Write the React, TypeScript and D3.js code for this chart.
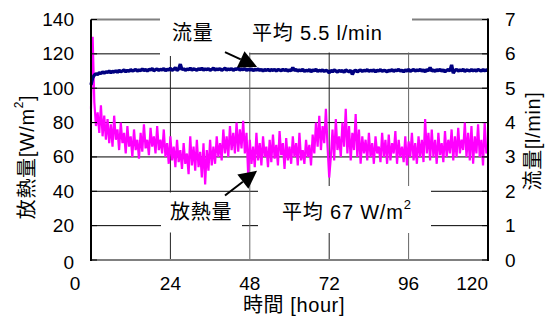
import React from 'react';
import * as d3 from 'd3';

// sampling step of both logged series [hour]
const STEP = 0.5;

// heat release [W/m2], every 0.5 h from 0 to 120 h
const heatValues = [
  88, 130, 92, 78, 86, 74, 90, 72, 84, 70,
  82, 68, 79, 66, 84, 70, 76, 64, 80, 68,
  74, 62, 78, 66, 72, 60, 76, 64, 70, 59,
  74, 63, 79, 65, 70, 61, 77, 66, 72, 62,
  78, 64, 70, 62, 76, 60, 68, 56, 72, 58,
  66, 54, 70, 57, 64, 53, 68, 56, 62, 50,
  72, 55, 66, 52, 70, 54, 63, 48, 68, 44,
  64, 52, 70, 55, 66, 56, 72, 60, 68, 58,
  76, 62, 72, 60, 78, 64, 74, 62, 80, 63,
  76, 65, 81, 62, 74, 50, 70, 56, 66, 54,
  74, 58, 68, 55, 72, 60, 66, 54, 70, 57,
  73, 59, 67, 55, 75, 61, 68, 53, 71, 58,
  66, 56, 72, 60, 68, 55, 74, 58, 64, 56,
  70, 60, 67, 55, 73, 62, 80, 66, 84, 64,
  78, 68, 88, 66, 48, 60, 76, 58, 82, 64,
  72, 60, 80, 66, 88, 62, 78, 58, 74, 64,
  85, 60, 76, 56, 72, 62, 70, 58, 74, 60,
  68, 56, 72, 62, 66, 57, 74, 60, 70, 56,
  73, 58, 68, 62, 75, 56, 70, 60, 66, 57,
  72, 55, 69, 60, 74, 58, 68, 56, 72, 60,
  70, 57, 82, 62, 74, 58, 76, 60, 70, 56,
  74, 61, 68, 57, 75, 60, 70, 62, 76, 58,
  72, 60, 77, 62, 70, 64, 80, 60, 74, 58,
  78, 56, 72, 62, 79, 60, 70, 55, 80, 62,
  66,
];

// flow rate [l/min], same time base
const flowValues = [
  5.10, 5.30, 5.38, 5.42, 5.40, 5.45, 5.43, 5.47, 5.44, 5.48,
  5.46, 5.50, 5.45, 5.49, 5.47, 5.51, 5.46, 5.52, 5.48, 5.50,
  5.53, 5.48, 5.52, 5.49, 5.54, 5.50, 5.52, 5.55, 5.50, 5.53,
  5.51, 5.56, 5.52, 5.54, 5.50, 5.55, 5.53, 5.57, 5.51, 5.54,
  5.56, 5.52, 5.55, 5.53, 5.57, 5.51, 5.55, 5.53, 5.58, 5.52,
  5.55, 5.60, 5.52, 5.56, 5.70, 5.54, 5.57, 5.52, 5.56, 5.54,
  5.58, 5.53, 5.56, 5.55, 5.52, 5.57, 5.54, 5.58, 5.53, 5.56,
  5.54, 5.57, 5.52, 5.55, 5.58, 5.53, 5.56, 5.54, 5.57, 5.52,
  5.55, 5.58, 5.53, 5.56, 5.54, 5.57, 5.52, 5.56, 5.55, 5.58,
  5.53, 5.56, 5.54, 5.57, 5.52, 5.55, 5.53, 5.56, 5.51, 5.55,
  5.53, 5.56, 5.52, 5.55, 5.50, 5.54, 5.52, 5.55, 5.51, 5.54,
  5.52, 5.55, 5.50, 5.54, 5.53, 5.51, 5.55, 5.52, 5.54, 5.50,
  5.53, 5.51, 5.60, 5.52, 5.54, 5.50, 5.53, 5.51, 5.55, 5.49,
  5.52, 5.50, 5.54, 5.48, 5.53, 5.51, 5.55, 5.49, 5.52, 5.50,
  5.53, 5.49, 5.52, 5.50, 5.45, 5.52, 5.48, 5.53, 5.50, 5.47,
  5.52, 5.49, 5.51, 5.46, 5.53, 5.50, 5.48, 5.52, 5.40, 5.50,
  5.52, 5.48, 5.51, 5.53, 5.49, 5.52, 5.50, 5.54, 5.49, 5.52,
  5.50, 5.53, 5.48, 5.52, 5.50, 5.54, 5.49, 5.52, 5.51, 5.48,
  5.52, 5.50, 5.54, 5.49, 5.53, 5.51, 5.55, 5.50, 5.52, 5.48,
  5.53, 5.50, 5.55, 5.49, 5.52, 5.54, 5.50, 5.53, 5.51, 5.55,
  5.50, 5.53, 5.48, 5.54, 5.51, 5.60, 5.50, 5.53, 5.49, 5.54,
  5.51, 5.55, 5.50, 5.53, 5.48, 5.52, 5.54, 5.50, 5.68, 5.44,
  5.52, 5.55, 5.50, 5.53, 5.51, 5.55, 5.49, 5.53, 5.52, 5.50,
  5.54, 5.51, 5.53, 5.50, 5.55, 5.52, 5.50, 5.54, 5.51, 5.53,
  5.52,
];

const xTicks = [0, 24, 48, 72, 96, 120];
const heatTicks = [0, 20, 40, 60, 80, 100, 120, 140];
const flowTicks = [0, 1, 2, 3, 4, 5, 6, 7];

const FONT = "Arial, 'Liberation Sans', 'Noto Sans CJK JP', sans-serif";
const W = 549;
const H = 325;

export default function App() {
  const x = d3.scaleLinear().domain([0, 120]).range([91, 488]);
  const yHeat = d3.scaleLinear().domain([0, 140]).range([260, 19.5]);
  const yFlow = d3.scaleLinear().domain([0, 7]).range([260, 19.5]);

  const heatLine = d3.line<number>()
    .x((_, i) => x(i * STEP))
    .y(d => yHeat(d));
  const flowLine = d3.line<number>()
    .x((_, i) => x(i * STEP))
    .y(d => yFlow(d));

  // arrow shaft + filled head between two screen points
  const arrowHead = (x0: number, y0: number, x1: number, y1: number) => {
    const dx = x1 - x0, dy = y1 - y0;
    const len = Math.hypot(dx, dy);
    const ux = dx / len, uy = dy / len;
    const bx = x1 - 18 * ux, by = y1 - 18 * uy;
    const px = -uy * 9, py = ux * 9;
    return {
      line: [x0, y0, bx, by],
      pts: `${x1},${y1} ${bx + px},${by + py} ${bx - px},${by - py}`,
    };
  };
  const flowArrow = arrowHead(x(40.5), yFlow(6.05), x(50.2), yFlow(5.62));
  const heatArrow = arrowHead(x(40.5), yHeat(37.5), x(50.2), yHeat(52));

  return (
    <svg width={W} height={H} style={{ position: 'absolute', left: 0, top: 0, background: '#fff' }}
      fontFamily={FONT}>
      <rect width={W} height={H} fill="#fff" />

      {/* horizontal gridlines */}
      {heatTicks.filter(t => t > 0).map(t => (
        <line key={'h' + t} x1={x(0)} x2={x(120)} y1={yHeat(t)} y2={yHeat(t)}
          stroke={t === 140 ? '#808080' : '#000'} strokeWidth={t === 140 ? 2 : 1} />
      ))}
      {/* vertical gridlines */}
      {xTicks.filter(t => t > 0 && t < 120).map((t, i) => (
        <line key={'v' + t} x1={x(t)} x2={x(t)} y1={yHeat(140)} y2={yHeat(0)}
          stroke={i % 2 === 0 ? '#222' : '#666'} strokeWidth={1} />
      ))}

      {/* label boxes hiding the grid */}
      <rect x={160} y={8} width={89} height={48} fill="#fff" />
      <rect x={249} y={8} width={163} height={44.5} fill="#fff" />
      <rect x={161} y={192.5} width={81} height={40} fill="#fff" />
      <rect x={258} y={186} width={173} height={47} fill="#fff" />

      {/* series */}
      <path d={heatLine(heatValues) || ''} fill="none" stroke="#ff00ff" strokeWidth={2.2} strokeLinejoin="bevel" />
      <path d={flowLine(flowValues) || ''} fill="none" stroke="#000080" strokeWidth={3.4} strokeLinejoin="bevel" />

      {/* axes */}
      <line x1={x(0)} x2={x(120)} y1={yHeat(0)} y2={yHeat(0)} stroke="#808080" strokeWidth={2} />
      <line x1={x(0)} x2={x(0)} y1={yHeat(140)} y2={yHeat(0) + 1} stroke="#000" strokeWidth={2} />
      <line x1={x(120)} x2={x(120)} y1={yHeat(140) - 1} y2={yHeat(0) + 1} stroke="#000" strokeWidth={2} />
      {heatTicks.map(t => (
        <line key={'lt' + t} x1={x(0)} x2={x(0) + 6} y1={yHeat(t)} y2={yHeat(t)} stroke="#000" strokeWidth={1} />
      ))}
      {flowTicks.map(t => (
        <line key={'rt' + t} x1={x(120) - 6} x2={x(120)} y1={yFlow(t)} y2={yFlow(t)} stroke="#000" strokeWidth={1} />
      ))}

      {/* arrows */}
      {[flowArrow, heatArrow].map((a, i) => (
        <g key={'a' + i}>
          <line x1={a.line[0]} y1={a.line[1]} x2={a.line[2]} y2={a.line[3]} stroke="#000" strokeWidth={2} />
          <polygon points={a.pts} fill="#000" />
        </g>
      ))}

      {/* tick labels */}
      <g fontSize={19} fill="#000">
        {heatTicks.map(t => (
          <text key={'ll' + t} x={74} y={yHeat(t) + (t === 0 ? 2 : 0)} textAnchor="end" dominantBaseline="central">{t}</text>
        ))}
        {flowTicks.map(t => (
          <text key={'rl' + t} x={505} y={yFlow(t)} textAnchor="start" dominantBaseline="central">{t}</text>
        ))}
        {xTicks.map(t => (
          <text key={'xl' + t}
            x={t === 0 ? 75 : t === 120 ? x(120) : x(t)}
            y={283}
            textAnchor={t === 120 ? 'end' : 'middle'}
            dominantBaseline="central">{t}</text>
        ))}
      </g>

      {/* axis titles */}
      <g fontSize={20} fill="#000" letterSpacing={0.6}>
        <text transform="translate(27,157) rotate(-90)" textAnchor="middle" dominantBaseline="central">
          放熱量[W/m<tspan fontSize={12} dy={-8}>2</tspan><tspan dy={8}>]</tspan>
        </text>
        <text transform="translate(533,141) rotate(-90)" textAnchor="middle" dominantBaseline="central">
          流量[l/min]
        </text>
        <text x={294} y={305} textAnchor="middle" dominantBaseline="central">時間 [hour]</text>
      </g>

      {/* annotations */}
      <g fontSize={20} fill="#000" letterSpacing={0.8}>
        <text x={172} y={33} dominantBaseline="central">流量</text>
        <text x={252} y={33} dominantBaseline="central">平均 5.5 l/min</text>
        <text x={170} y={212} dominantBaseline="central">放熱量</text>
        <text x={282} y={212} dominantBaseline="central">
          平均 67 W/m<tspan fontSize={13} dy={-8}>2</tspan>
        </text>
      </g>
    </svg>
  );
}
